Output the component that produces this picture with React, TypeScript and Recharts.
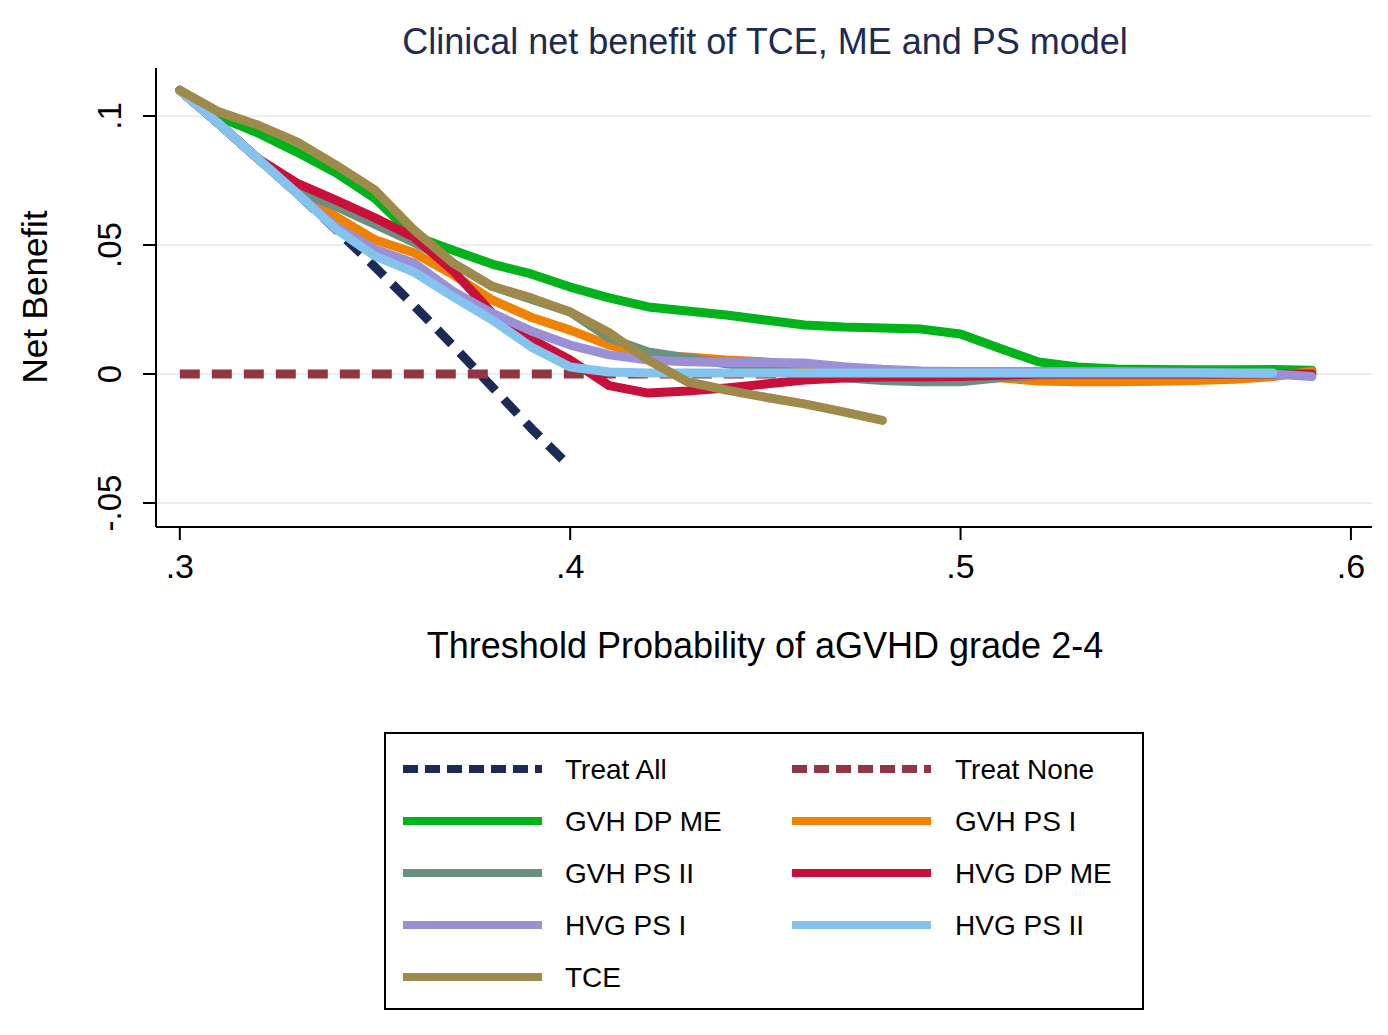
import React from 'react';
import { LineChart, Line, XAxis, YAxis, ReferenceLine } from 'recharts';

const thresholds = [0.3, 0.31, 0.32, 0.33, 0.34, 0.35, 0.36, 0.37, 0.38, 0.39, 0.4, 0.41, 0.42, 0.43, 0.44, 0.45, 0.46, 0.47, 0.48, 0.49, 0.5, 0.51, 0.52, 0.53, 0.54, 0.55, 0.56, 0.57, 0.58, 0.59];

const treatAll = [0.11, 0.097, 0.0835, 0.07, 0.056, 0.0415, 0.0265, 0.011, -0.005, -0.021, -0.036];
const treatNone = [0, 0, 0, 0, 0, 0, 0, 0, 0, 0, 0, 0, 0, 0, 0, 0, 0, 0, 0, 0, 0, 0, 0, 0, 0, 0, 0, 0, 0, 0];
const gvhDpMe = [0.11, 0.0996, 0.0934, 0.086, 0.078, 0.068, 0.0535, 0.048, 0.0426, 0.0388, 0.0337, 0.0295, 0.026, 0.0244, 0.0229, 0.0209, 0.019, 0.0182, 0.0178, 0.0174, 0.0155, 0.01, 0.0047, 0.0027, 0.0019, 0.0017, 0.0016, 0.0016, 0.0017, 0.0015];
const gvhPsI = [0.11, 0.097, 0.0835, 0.0705, 0.061, 0.052, 0.047, 0.0385, 0.0287, 0.022, 0.017, 0.0112, 0.0074, 0.0066, 0.0054, 0.0047, 0.0035, 0.0023, 0.001, 0.0004, -0.0004, -0.0015, -0.0027, -0.003, -0.003, -0.0028, -0.0025, -0.002, -0.001, 0.001];
const gvhPsII = [0.11, 0.097, 0.0835, 0.071, 0.065, 0.058, 0.051, 0.043, 0.034, 0.029, 0.024, 0.014, 0.0085, 0.0062, 0.004, 0.002, 0.0, -0.0015, -0.0025, -0.003, -0.003, -0.0015, -0.0005, 0, 0, 0, 0, 0, 0, 0];
const hvgDpMe = [0.11, 0.097, 0.0835, 0.074, 0.0674, 0.0605, 0.053, 0.04, 0.0236, 0.0136, 0.0054, -0.0045, -0.0074, -0.0066, -0.0054, -0.0039, -0.0023, -0.0016, -0.0012, -0.0012, -0.001, -0.0005, 0, 0, 0, 0, 0, 0, 0, 0];
const hvgPsI = [0.11, 0.097, 0.0835, 0.07, 0.057, 0.0484, 0.043, 0.032, 0.0236, 0.0167, 0.0112, 0.0074, 0.0054, 0.0047, 0.0045, 0.0045, 0.0043, 0.0028, 0.0018, 0.0012, 0.001, 0.001, 0.001, 0.001, 0.001, 0.0008, 0.0006, 0.0003, 0, -0.001];
const hvgPsII = [0.11, 0.097, 0.0835, 0.07, 0.0562, 0.0457, 0.0395, 0.03, 0.021, 0.0105, 0.0027, 0.0008, 0.0004, 0.0004, 0.0004, 0.0004, 0.0004, 0.0004, 0.0004, 0.0004, 0.0004, 0.0004, 0.0004, 0.0004, 0.0004, 0.0004, 0.0004, 0.0004, 0.0004];
const tce = [0.11, 0.1016, 0.0965, 0.09, 0.081, 0.0713, 0.0558, 0.043, 0.034, 0.0295, 0.024, 0.016, 0.0054, -0.003, -0.0062, -0.009, -0.0116, -0.0147, -0.018];

const xTicks = [0.3, 0.4, 0.5, 0.6];
const yTicks = [-0.05, 0, 0.05, 0.1];

const titleText = 'Clinical net benefit of TCE, ME and PS model';
const xTitle = 'Threshold Probability of aGVHD grade 2-4';
const yTitle = 'Net Benefit';

const series = [
  { key: 'treatAll', name: 'Treat All', values: treatAll, color: '#1c2b55', dashed: true },
  { key: 'treatNone', name: 'Treat None', values: treatNone, color: '#923641', dashed: true },
  { key: 'gvhDpMe', name: 'GVH DP ME', values: gvhDpMe, color: '#00b31a', dashed: false },
  { key: 'gvhPsI', name: 'GVH PS I', values: gvhPsI, color: '#ef8200', dashed: false },
  { key: 'gvhPsII', name: 'GVH PS II', values: gvhPsII, color: '#6b9080', dashed: false },
  { key: 'hvgDpMe', name: 'HVG DP ME', values: hvgDpMe, color: '#c8103a', dashed: false },
  { key: 'hvgPsI', name: 'HVG PS I', values: hvgPsI, color: '#9b8fd6', dashed: false },
  { key: 'hvgPsII', name: 'HVG PS II', values: hvgPsII, color: '#84c3ee', dashed: false },
  { key: 'tce', name: 'TCE', values: tce, color: '#9e8a4a', dashed: false },
];

const data = thresholds.map((t, i) => {
  const row: Record<string, number | null> = { t };
  series.forEach((s) => {
    row[s.key] = i < s.values.length ? s.values[i] : null;
  });
  return row;
});

const FONT = '"Liberation Sans", Arial, Helvetica, sans-serif';

const fmt = (v: number) => {
  const s = String(Math.round(v * 1000) / 1000);
  return s.replace(/^(-?)0\./, '$1.');
};

const XTick = (props: any) => {
  const { x, y, payload } = props;
  return (
    <text x={x} y={y + 36} textAnchor="middle" fontSize={34} fontFamily={FONT} fill="#000">
      {fmt(payload.value)}
    </text>
  );
};

const YTick = (props: any) => {
  const { x, y, payload } = props;
  const bx = x - 20;
  return (
    <text
      x={bx}
      y={y}
      transform={`rotate(-90 ${bx} ${y})`}
      textAnchor="middle"
      fontSize={33}
      fontFamily={FONT}
      fill="#000"
    >
      {fmt(payload.value)}
    </text>
  );
};

export default function App() {
  return (
    <div style={{ position: 'absolute', left: 0, top: 0, width: 1388, height: 1035, background: '#fff' }}>
      <LineChart
        width={1388}
        height={1035}
        data={data}
        margin={{ top: 68, right: 16, bottom: 448, left: 0 }}
      >
        <XAxis
          dataKey="t"
          type="number"
          domain={[0.2939, 0.6054]}
          ticks={xTicks}
          allowDataOverflow
          height={60}
          tickSize={13}
          tick={<XTick />}
          axisLine={{ stroke: '#000', strokeWidth: 2 }}
          tickLine={{ stroke: '#000', strokeWidth: 2 }}
          interval={0}
        />
        <YAxis
          type="number"
          domain={[-0.0593, 0.1186]}
          ticks={yTicks}
          allowDataOverflow
          width={156}
          tickSize={13}
          tick={<YTick />}
          axisLine={{ stroke: '#000', strokeWidth: 2 }}
          tickLine={{ stroke: '#000', strokeWidth: 2 }}
          interval={0}
        />
        {yTicks.map((v) => (
          <ReferenceLine key={`g${v}`} y={v} stroke="#e9eef3" strokeWidth={2} />
        ))}
        {series.map((s) => (
          <Line
            key={s.key}
            dataKey={s.key}
            name={s.name}
            type="linear"
            stroke={s.color}
            strokeWidth={9}
            strokeDasharray={s.dashed ? '20 12' : undefined}
            strokeLinecap={s.dashed ? 'butt' : 'round'}
            strokeLinejoin="round"
            dot={false}
            activeDot={false}
            isAnimationActive={false}
          />
        ))}
      </LineChart>
      <svg
        width={1388}
        height={1035}
        style={{ position: 'absolute', left: 0, top: 0, pointerEvents: 'none' }}
      >
        <text x={765} y={54} textAnchor="middle" fontSize={36} fontFamily={FONT} fill="#1c2b55">
          {titleText}
        </text>
        <text x={765} y={658} textAnchor="middle" fontSize={36} fontFamily={FONT} fill="#000">
          {xTitle}
        </text>
        <text
          x={47}
          y={297}
          transform="rotate(-90 47 297)"
          textAnchor="middle"
          fontSize={35}
          fontFamily={FONT}
          fill="#000"
        >
          {yTitle}
        </text>
        <rect x={385} y={733} width={758} height={276} fill="#fff" stroke="#000" strokeWidth={2} />
        {series.map((s, i) => {
          const row = Math.floor(i / 2);
          const col = i % 2;
          const cy = 769 + row * 52;
          const x0 = col === 0 ? 403 : 792;
          const tx = col === 0 ? 565 : 955;
          return (
            <g key={s.key}>
              <line
                x1={x0}
                y1={cy}
                x2={x0 + 139}
                y2={cy}
                stroke={s.color}
                strokeWidth={8}
                strokeDasharray={s.dashed ? '15 7' : undefined}
              />
              <text x={tx} y={cy + 10} fontSize={28} fontFamily={FONT} fill="#000">
                {s.name}
              </text>
            </g>
          );
        })}
      </svg>
    </div>
  );
}
